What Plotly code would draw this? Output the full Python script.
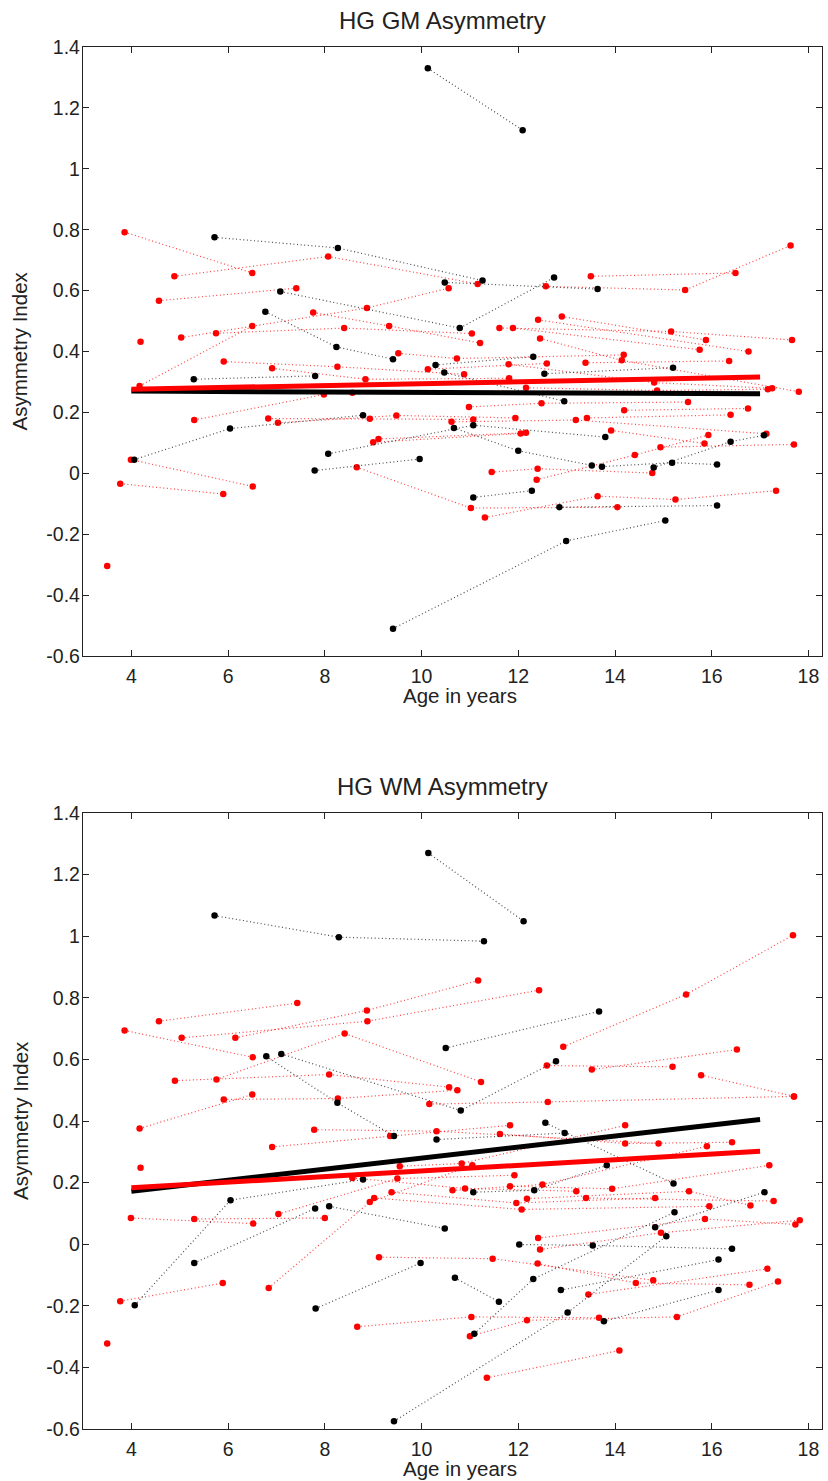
import plotly.graph_objects as go

# ---------------- HG GM Asymmetry (top) ----------------
gm_black_ages = [
    [10.13, 12.09], [5.72, 8.27, 11.26], [7.08, 10.79, 12.74], [6.77, 8.24, 9.41],
    [10.48, 13.64], [5.29, 7.80], [10.29, 12.31], [12.54, 15.20],
    [4.06, 6.04, 8.79], [8.07, 11.07, 13.80], [7.79, 9.96], [10.67, 12.00, 13.52],
    [13.73, 15.18, 16.11], [14.80, 16.39, 17.08], [11.07, 12.28], [12.85, 16.11],
    [9.41, 12.99, 15.04], [10.47, 12.95],
]
gm_black_vals = [
    [1.33, 1.127], [0.775, 0.740, 0.633], [0.597, 0.477, 0.643], [0.531, 0.415, 0.375],
    [0.627, 0.605], [0.309, 0.320], [0.356, 0.383], [0.327, 0.347],
    [0.045, 0.147, 0.191], [0.064, 0.158, 0.119], [0.009, 0.047], [0.149, 0.074, 0.026],
    [0.022, 0.035, 0.029], [0.019, 0.104, 0.125], [-0.079, -0.057], [-0.111, -0.106],
    [-0.51, -0.222, -0.155], [0.331, 0.237],
]
gm_red_ages = [
    [3.86, 6.50], [4.89, 8.07, 11.16], [4.57, 7.41], [4.17, 6.50], [5.03, 8.87, 10.56],
    [5.75, 8.40, 11.04], [4.19], [7.76, 9.33, 11.21], [3.77, 5.90], [3.99, 6.51],
    [5.30, 7.98], [5.91, 8.26, 10.88], [6.91, 8.84, 11.81], [6.83, 8.93, 11.07],
    [7.03, 9.48, 11.94], [9.00, 12.05], [9.11, 12.16], [8.66, 11.02, 14.05],
    [11.31, 13.64, 15.25, 17.33], [11.45, 12.40, 14.77], [12.38, 14.41, 15.93],
    [13.92, 15.85], [14.94, 17.70], [10.62, 13.19, 17.13], [13.42, 16.39], [14.19, 16.75],
    [10.98, 12.48, 15.51], [12.16, 14.87, 17.16], [11.80, 14.81, 17.25],
    [12.45, 14.14, 17.80], [13.39, 16.36], [9.52, 10.73, 14.18], [10.13, 12.59],
    [11.61, 15.16, 17.66], [11.89, 15.75], [12.90, 15.88], [12.41, 16.76],
    [13.50, 16.49], [12.57, 15.45, 17.63], [3.50], [8.57],
]
gm_red_vals = [
    [0.792, 0.658], [0.647, 0.712, 0.622], [0.567, 0.608], [0.287, 0.484], [0.446, 0.543, 0.608],
    [0.460, 0.477, 0.459], [0.432], [0.528, 0.484, 0.428], [-0.034, -0.068], [0.045, -0.043],
    [0.175, 0.259], [0.367, 0.350, 0.325], [0.345, 0.309, 0.312], [0.180, 0.179, 0.177],
    [0.166, 0.190, 0.182], [0.102, 0.131], [0.113, 0.133], [0.020, -0.114, -0.111],
    [-0.145, -0.075, -0.086, -0.057], [0.004, 0.015, 0.001], [-0.021, 0.060, 0.126],
    [0.141, 0.098], [0.086, 0.095], [0.169, 0.175, 0.130], [0.182, 0.192], [0.207, 0.213],
    [0.218, 0.230, 0.234], [0.281, 0.272, 0.276], [0.358, 0.298, 0.279],
    [0.443, 0.371, 0.268], [0.363, 0.369], [0.394, 0.377, 0.389], [0.342, 0.361],
    [0.477, 0.466, 0.438], [0.477, 0.406], [0.515, 0.438], [0.504, 0.400],
    [0.647, 0.658], [0.614, 0.602, 0.748], [-0.304], [0.265],
]
gm_fit_ages = [4, 17]
gm_fit_black = [0.270, 0.261]
gm_fit_red = [0.276, 0.316]

# ---------------- HG WM Asymmetry (bottom) ----------------
wm_black_ages = [
    [10.14, 12.11], [5.72, 8.29, 11.29], [7.10, 10.81, 12.78], [6.79, 8.26, 9.43],
    [10.50, 13.67], [5.30, 7.80], [10.31, 12.96], [12.56, 15.21],
    [4.07, 6.05, 8.79], [8.09, 10.48], [7.81, 9.98], [10.69, 11.60],
    [12.02, 13.54, 16.42], [14.83, 17.09], [11.09, 12.31, 15.23], [12.88, 16.14],
    [9.43, 13.02, 15.06], [11.07, 12.33, 13.83], [13.77, 16.14],
]
wm_black_vals = [
    [1.270, 1.049], [1.067, 0.997, 0.984], [0.618, 0.434, 0.594], [0.610, 0.459, 0.351],
    [0.637, 0.756], [-0.061, 0.116], [0.340, 0.361], [0.394, 0.197],
    [-0.198, 0.143, 0.210], [0.123, 0.051], [-0.209, -0.061], [-0.109, -0.187],
    [-0.001, -0.004, -0.015], [0.055, 0.169], [-0.291, -0.113, 0.104], [-0.149, -0.050],
    [-0.575, -0.222, 0.026], [0.169, 0.175, 0.256], [-0.250, -0.149],
]
wm_red_ages = [
    [3.86, 6.51], [4.90, 8.09, 10.57], [4.57, 7.43], [4.17, 6.50], [5.04, 8.88, 12.43],
    [6.15, 8.87, 11.17], [4.19], [5.76, 8.41, 11.23], [5.91, 8.27, 10.74],
    [6.91, 9.35, 11.83], [7.78, 10.31, 14.90], [9.55, 10.83, 14.21], [7.04, 9.50, 11.92],
    [6.84, 8.93, 11.05], [9.38, 11.96, 14.83], [3.99, 6.52], [5.30, 8.00], [3.77, 5.89],
    [3.50], [8.57, 10.90, 13.20], [9.02, 12.07, 15.95], [9.12, 11.47, 14.79],
    [8.67, 11.03, 13.67], [11.35, 14.09], [11.00, 12.18, 15.28, 17.37],
    [12.40, 14.43, 16.78], [12.93, 15.47, 17.68], [12.59, 15.19], [13.52, 16.52],
    [10.16, 12.61, 17.70], [11.62, 14.21, 16.42], [10.64, 12.50, 15.90],
    [11.83, 13.94, 17.19], [12.18, 15.53, 16.80], [12.41, 15.86, 17.73],
    [12.45, 14.95, 17.82], [13.45, 17.15], [13.40, 17.28], [15.78, 17.70],
]
wm_red_vals = [
    [0.694, 0.607], [0.531, 0.551, 0.510], [0.724, 0.783], [0.376, 0.486], [0.670, 0.724, 0.825],
    [0.670, 0.759, 0.856], [0.248], [0.535, 0.684, 0.527], [0.470, 0.473, 0.500],
    [0.316, 0.351, 0.386], [0.372, 0.367, 0.327], [0.253, 0.262, 0.386], [0.098, 0.213, 0.224],
    [-0.142, 0.137, 0.256], [0.169, 0.134, 0.150], [0.085, 0.067], [0.082, 0.085], [-0.185, -0.126],
    [-0.322], [0.215, 0.181, 0.172], [0.150, 0.113, 0.123], [-0.042, -0.047, -0.117],
    [-0.268, -0.236, -0.239], [-0.434, -0.345], [-0.299, -0.247, -0.236, -0.121],
    [-0.063, -0.126, -0.132], [0.641, 0.811, 1.003], [0.580, 0.576], [0.567, 0.632],
    [0.455, 0.462, 0.480], [0.358, 0.327, 0.331], [0.175, 0.194, 0.318],
    [0.188, 0.180, 0.256], [0.148, 0.172, 0.126], [0.020, 0.082, 0.064],
    [-0.017, 0.037, 0.078], [-0.163, -0.080], [0.150, 0.140], [0.549, 0.480],
]
wm_fit_ages = [4, 17]
wm_fit_black = [0.172, 0.405]
wm_fit_red = [0.183, 0.302]

titles = ["HG GM Asymmetry", "HG WM Asymmetry"]
x_label = "Age in years"
y_label = "Asymmetry Index"
x_ticks = [4, 6, 8, 10, 12, 14, 16, 18]
y_ticks = [-0.6, -0.4, -0.2, 0, 0.2, 0.4, 0.6, 0.8, 1, 1.2, 1.4]

RED = "#ff0000"
BLACK = "#000000"
RED_DOT = "rgba(255,0,0,0.75)"
BLACK_DOT = "rgba(0,0,0,0.7)"
DOT = "1px,2.6px"

fig = go.Figure()


def add_subjects(ages_list, vals_list, color, line_color, xa, ya):
    for a, v in zip(ages_list, vals_list):
        fig.add_trace(go.Scatter(
            x=a, y=v, mode="lines+markers", xaxis=xa, yaxis=ya,
            line=dict(color=line_color, width=1.2, dash=DOT),
            marker=dict(color=color, size=6.5, line=dict(width=0)),
            showlegend=False, hoverinfo="skip"))


for (ba, bv, ra, rv, fa, fb, fr, xa, ya) in [
    (gm_black_ages, gm_black_vals, gm_red_ages, gm_red_vals, gm_fit_ages, gm_fit_black, gm_fit_red, "x", "y"),
    (wm_black_ages, wm_black_vals, wm_red_ages, wm_red_vals, wm_fit_ages, wm_fit_black, wm_fit_red, "x2", "y2"),
]:
    add_subjects(ra, rv, RED, RED_DOT, xa, ya)
    add_subjects(ba, bv, BLACK, BLACK_DOT, xa, ya)
    fig.add_trace(go.Scatter(x=fa, y=fb, mode="lines", xaxis=xa, yaxis=ya,
                             line=dict(color=BLACK, width=5), showlegend=False, hoverinfo="skip"))
    fig.add_trace(go.Scatter(x=fa, y=fr, mode="lines", xaxis=xa, yaxis=ya,
                             line=dict(color=RED, width=5), showlegend=False, hoverinfo="skip"))

FONT = "Liberation Sans, Arial, sans-serif"
axis_common = dict(
    showgrid=False, zeroline=False, showline=True, linecolor="#222", linewidth=1.3,
    mirror="ticks", ticks="inside", ticklen=6, tickwidth=1.3, tickcolor="#222",
    tickfont=dict(family=FONT, size=19.5, color="#222"),
)
fig.update_layout(
    width=828, height=1481,
    margin=dict(l=83, r=6, t=47, b=52),
    paper_bgcolor="white", plot_bgcolor="white",
    xaxis=dict(range=[3.0, 18.28], tickvals=x_ticks, domain=[0, 1], anchor="y",
               ticklabelstandoff=2, **axis_common),
    yaxis=dict(range=[-0.6, 1.4], tickvals=y_ticks, ticktext=[f"{t:g}" for t in y_ticks],
               domain=[0.5593, 1], anchor="x", ticklabelstandoff=-2, **axis_common),
    xaxis2=dict(range=[3.0, 18.28], tickvals=x_ticks, domain=[0, 1], anchor="y2",
                ticklabelstandoff=2, **axis_common),
    yaxis2=dict(range=[-0.6, 1.4], tickvals=y_ticks, ticktext=[f"{t:g}" for t in y_ticks],
                domain=[0, 0.4457], anchor="x2", ticklabelstandoff=-2, **axis_common),
)

ann = []
for title, ydom_top, ydom_bot in [(titles[0], 1.0, 0.5593), (titles[1], 0.4457, 0.0)]:
    ann.append(dict(text=title, xref="paper", yref="paper", x=0.486, y=ydom_top, yshift=11,
                    xanchor="center", yanchor="bottom", showarrow=False,
                    font=dict(family=FONT, size=24, color="#222")))
    ann.append(dict(text=x_label, xref="paper", yref="paper", x=0.51, y=ydom_bot, yshift=-26,
                    xanchor="center", yanchor="top", showarrow=False,
                    font=dict(family=FONT, size=20.5, color="#222")))
    ann.append(dict(text=y_label, xref="paper", yref="paper", x=0, xshift=-63,
                    y=(ydom_top + ydom_bot) / 2, textangle=-90,
                    xanchor="center", yanchor="middle", showarrow=False,
                    font=dict(family=FONT, size=20.5, color="#222")))
fig.update_layout(annotations=ann)

fig.write_html("out.html", config={"displayModeBar": False},
               post_script="document.body.style.margin='0';document.body.style.padding='0';")
